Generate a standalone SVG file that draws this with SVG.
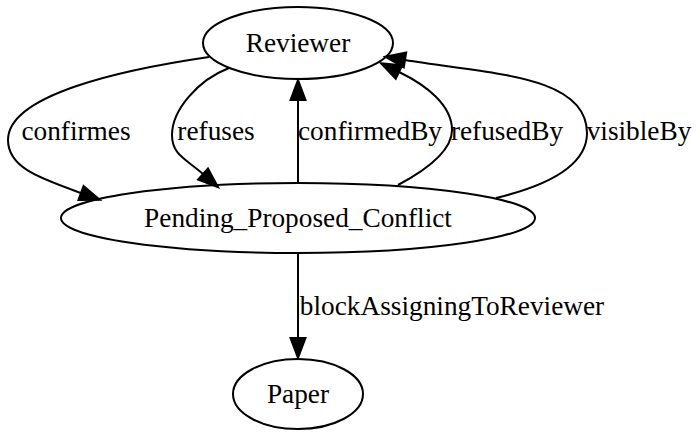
<svg xmlns="http://www.w3.org/2000/svg" width="700" height="438" viewBox="0 0 700 438">
<style>
  .node ellipse { fill: none; stroke: #000; stroke-width: 2; }
  text { font-family: "Liberation Serif", "Times New Roman", serif; font-size: 27.3px; fill: #000; text-anchor: middle; }
  .edge path { fill: none; stroke: #000; stroke-width: 2; marker-end: url(#ah); }
</style>
<defs>
  <marker id="ah" markerUnits="userSpaceOnUse" markerWidth="24" markerHeight="18" refX="0" refY="7.5" orient="auto" overflow="visible">
    <path d="M0,0 L20,7.5 L0,15 Z" fill="#000" stroke="#000" stroke-width="2"/>
  </marker>
</defs>
<rect width="700" height="438" fill="#fff"/>
<g id="edges" class="edge">
  <path d="M209,57 C120,70 8,95 8,140 C8,168 41,178.5 81,193"/>
  <path d="M229,68 C198,80 172,110 172,135 C172,155 186,159 203,174"/>
  <path d="M298,183 L298,100"/>
  <path d="M398,185 C430,168 452,150 452,130 C452,105 426,85 399,72"/>
  <path d="M496,198 C550,185 587,165 587,133 C587,75 490,74 405,60"/>
  <path d="M298,253 L298,338"/>
  <text x="76" y="140">confirmes</text>
  <text x="216" y="140">refuses</text>
  <text x="370" y="140">confirmedBy</text>
  <text x="507" y="140">refusedBy</text>
  <text x="639" y="140">visibleBy</text>
  <text x="452" y="315">blockAssigningToReviewer</text>
</g>
<g id="Reviewer" class="node">
  <ellipse cx="298" cy="43" rx="95" ry="36"/>
  <text x="298" y="52">Reviewer</text>
</g>
<g id="Pending_Proposed_Conflict" class="node">
  <ellipse cx="298" cy="218" rx="237" ry="35"/>
  <text x="298" y="227">Pending_Proposed_Conflict</text>
</g>
<g id="Paper" class="node">
  <ellipse cx="298" cy="394" rx="65" ry="35"/>
  <text x="298" y="403">Paper</text>
</g>
</svg>
